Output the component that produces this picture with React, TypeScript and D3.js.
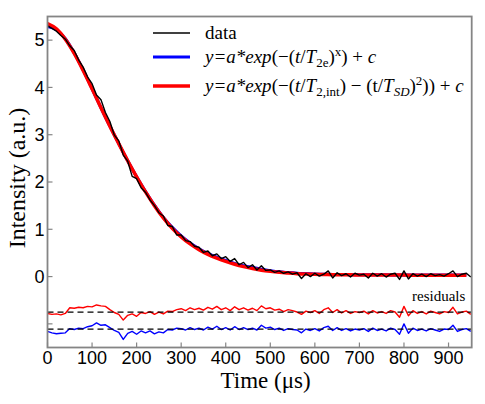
import React from "react";
import * as d3 from "d3";

const timeStep = 10;
const dataValues = [
  5.30, 5.25, 5.19, 5.10, 5.02, 4.88, 4.78, 4.58, 4.43, 4.22,
  4.08, 3.84, 3.74, 3.47, 3.28, 2.99, 2.87, 2.57, 2.44, 2.12,
  2.07, 1.88, 1.78, 1.62, 1.50, 1.35, 1.28, 1.08, 1.06, 0.88,
  0.88, 0.76, 0.74, 0.64, 0.62, 0.51, 0.54, 0.44, 0.48, 0.38,
  0.42, 0.32, 0.38, 0.25, 0.30, 0.19, 0.25, 0.14, 0.23, 0.13,
  0.14, 0.09, 0.12, 0.07, 0.10, 0.05, 0.08, -0.04, 0.06, 0.00,
  0.07, 0.01, 0.05, 0.12, -0.03, 0.08, 0.02, 0.06, -0.01, 0.07,
  0.03, 0.05, -0.03, 0.07, 0.01, 0.06, -0.01, 0.05, 0.07, -0.06,
  0.12, -0.05, 0.06, 0.01, 0.05, 0.00, 0.06, 0.02, 0.04, 0.01,
  0.06, 0.12, 0.00, 0.05, 0.07, -0.01,
];

const fitStep = 20;
const fitRed = [
  5.35, 5.24, 5.02, 4.72, 4.36, 3.97, 3.57, 3.18, 2.81, 2.45,
  2.11, 1.79, 1.50, 1.24, 1.02, 0.84, 0.69, 0.57, 0.47, 0.39,
  0.32, 0.26, 0.21, 0.17, 0.135, 0.11, 0.09, 0.075, 0.062, 0.053,
  0.047, 0.043, 0.040, 0.038, 0.036, 0.035, 0.034, 0.033, 0.032, 0.031,
  0.031, 0.030, 0.030, 0.030, 0.030, 0.030, 0.030, 0.030,
];
const fitBlue = [
  5.29, 5.22, 5.03, 4.73, 4.37, 3.97, 3.57, 3.18, 2.81, 2.45,
  2.11, 1.80, 1.51, 1.25, 1.04, 0.86, 0.71, 0.59, 0.49, 0.41,
  0.34, 0.28, 0.23, 0.19, 0.155, 0.125, 0.10, 0.085, 0.072, 0.063,
  0.055, 0.050, 0.046, 0.043, 0.041, 0.040, 0.038, 0.037, 0.036, 0.035,
  0.035, 0.034, 0.034, 0.033, 0.033, 0.033, 0.033, 0.033,
];

const residualRed = [
  -0.78, -0.80, -0.79, -0.81, -0.78, -0.66, -0.67, -0.65, -0.66, -0.63,
  -0.64, -0.60, -0.62, -0.63, -0.70, -0.76, -0.80, -0.92, -0.82, -0.79,
  -0.84, -0.76, -0.78, -0.74, -0.80, -0.75, -0.79, -0.73, -0.74, -0.70,
  -0.68, -0.72, -0.66, -0.70, -0.67, -0.71, -0.65, -0.69, -0.63, -0.70,
  -0.66, -0.72, -0.64, -0.70, -0.66, -0.71, -0.67, -0.72, -0.62, -0.68,
  -0.66, -0.71, -0.69, -0.74, -0.70, -0.72, -0.75, -0.80, -0.73, -0.76,
  -0.72, -0.78, -0.70, -0.66, -0.76, -0.70, -0.77, -0.72, -0.78, -0.74,
  -0.76, -0.73, -0.79, -0.72, -0.77, -0.74, -0.78, -0.72, -0.75, -0.86,
  -0.63, -0.83, -0.72, -0.78, -0.74, -0.79, -0.73, -0.76, -0.79, -0.74,
  -0.76, -0.65, -0.79, -0.75, -0.73, -0.80,
];
const residualBlue = [
  -1.16, -1.19, -1.21, -1.20, -1.19, -1.10, -1.12, -1.09, -1.10, -1.06,
  -1.04, -0.98, -1.03, -1.02, -1.08, -1.14, -1.18, -1.33, -1.20, -1.16,
  -1.22, -1.15, -1.19, -1.15, -1.21, -1.17, -1.19, -1.12, -1.13, -1.09,
  -1.10, -1.13, -1.08, -1.12, -1.09, -1.13, -1.07, -1.11, -1.05, -1.12,
  -1.08, -1.13, -1.06, -1.12, -1.08, -1.12, -1.09, -1.13, -1.03, -1.09,
  -1.07, -1.12, -1.09, -1.14, -1.10, -1.12, -1.13, -1.19, -1.11, -1.14,
  -1.10, -1.15, -1.08, -1.05, -1.14, -1.08, -1.14, -1.10, -1.15, -1.11,
  -1.13, -1.10, -1.16, -1.09, -1.14, -1.11, -1.15, -1.09, -1.12, -1.22,
  -1.00, -1.20, -1.09, -1.14, -1.11, -1.15, -1.10, -1.13, -1.16, -1.11,
  -1.12, -1.03, -1.16, -1.12, -1.10, -1.16,
];
const residualBaselines = [-0.75, -1.11];

const xTicks = [0, 100, 200, 300, 400, 500, 600, 700, 800, 900];
const yTicks = [-1, 0, 1, 2, 3, 4, 5];
const yTickLabels = ["", "0", "1", "2", "3", "4", "5"];

const W = 485;
const H = 404;
const left = 47.5;
const right = 471.7;
const top = 16.5;
const bottom = 347.5;

export default function App() {
  const x = d3.scaleLinear().domain([0, 952]).range([left, right]);
  const y = d3.scaleLinear().domain([-1.5, 5.5]).range([bottom, top]);

  const line = d3
    .line<[number, number]>()
    .x((d) => x(d[0]))
    .y((d) => y(d[1]));
  const smooth = d3
    .line<[number, number]>()
    .x((d) => x(d[0]))
    .y((d) => y(d[1]))
    .curve(d3.curveMonotoneX);

  const toPts = (vals: number[], step: number) =>
    vals.map((v, i) => [i * step, v] as [number, number]);

  const serif = "'Liberation Serif', 'Times New Roman', serif";
  const sans = "'Liberation Sans', Arial, sans-serif";
  const frame = "#858585";

  return (
    <svg
      width={W}
      height={H}
      style={{ position: "absolute", left: 0, top: 0, background: "#fff" }}
    >
      <defs>
        <clipPath id="plotClip">
          <rect x={left} y={top} width={right - left} height={bottom - top} />
        </clipPath>
      </defs>
      <rect width={W} height={H} fill="#fff" />
      <g clipPath="url(#plotClip)">
        <path d={smooth(toPts(fitBlue, fitStep)) || ""} fill="none" stroke="#0000ff" strokeWidth={3} />
        <path d={smooth(toPts(fitRed, fitStep)) || ""} fill="none" stroke="#ff0000" strokeWidth={3.5} />
        <path d={line(toPts(dataValues, timeStep)) || ""} fill="none" stroke="#000" strokeWidth={1.4} strokeLinejoin="round" />
        <path d={line(toPts(residualRed, timeStep)) || ""} fill="none" stroke="#ff0000" strokeWidth={1.4} strokeLinejoin="round" />
        <path d={line(toPts(residualBlue, timeStep)) || ""} fill="none" stroke="#0000ff" strokeWidth={1.4} strokeLinejoin="round" />
        {residualBaselines.map((b, i) => (
          <line
            key={i}
            x1={left}
            x2={right}
            y1={y(b)}
            y2={y(b)}
            stroke="#000"
            strokeWidth={1.2}
            strokeDasharray="6 4"
          />
        ))}
      </g>

      {/* ticks */}
      {xTicks.map((t) => (
        <g key={"x" + t}>
          <line x1={x(t)} x2={x(t)} y1={bottom} y2={bottom - 5} stroke={frame} strokeWidth={1.2} />
          <text x={x(t)} y={bottom + 16.5} textAnchor="middle" fontFamily={sans} fontSize={18} fill="#000">
            {t}
          </text>
        </g>
      ))}
      {yTicks.map((t, i) => (
        <g key={"y" + t}>
          <line x1={left} x2={left + 5} y1={y(t)} y2={y(t)} stroke={frame} strokeWidth={1.2} />
          <text x={left - 3} y={y(t)} dy="0.35em" textAnchor="end" fontFamily={sans} fontSize={18} fill="#000">
            {yTickLabels[i]}
          </text>
        </g>
      ))}

      <rect x={left} y={top} width={right - left} height={bottom - top} fill="none" stroke={frame} strokeWidth={1.8} />

      {/* axis titles */}
      <text x={(left + right) / 2 + 6} y={388} textAnchor="middle" fontFamily={serif} fontSize={23} fill="#000">
        Time (μs)
      </text>
      <text
        transform={`translate(25, ${(top + bottom) / 2 - 4}) rotate(-90)`}
        textAnchor="middle"
        fontFamily={serif}
        fontSize={24}
        fill="#000"
      >
        Intensity (a.u.)
      </text>

      {/* legend */}
      <line x1={153} x2={190} y1={33} y2={33} stroke="#000" strokeWidth={1.5} />
      <text x={205} y={39} fontFamily={serif} fontSize={19} fill="#000">data</text>

      <line x1={153} x2={190} y1={57} y2={57} stroke="#0000ff" strokeWidth={3} />
      <text x={205} y={63} fontFamily={serif} fontSize={19} fill="#000">
        <tspan fontStyle="italic">y=a*exp</tspan>
        <tspan>(−(</tspan>
        <tspan fontStyle="italic">t</tspan>
        <tspan>/</tspan>
        <tspan fontStyle="italic">T</tspan>
        <tspan fontSize={13} dy={4}>2e</tspan>
        <tspan dy={-4}>)</tspan>
        <tspan fontSize={13} dy={-7}>x</tspan>
        <tspan dy={7}>) + </tspan>
        <tspan fontStyle="italic">c</tspan>
      </text>

      <line x1={153} x2={190} y1={86} y2={86} stroke="#ff0000" strokeWidth={3.5} />
      <text x={205} y={92} fontFamily={serif} fontSize={19} fill="#000">
        <tspan fontStyle="italic">y=a*exp</tspan>
        <tspan>(−(</tspan>
        <tspan fontStyle="italic">t</tspan>
        <tspan>/</tspan>
        <tspan fontStyle="italic">T</tspan>
        <tspan fontSize={13} dy={4}>2,int</tspan>
        <tspan dy={-4}>) − (t/</tspan>
        <tspan fontStyle="italic">T</tspan>
        <tspan fontSize={13} fontStyle="italic" dy={4}>SD</tspan>
        <tspan dy={-4}>)</tspan>
        <tspan fontSize={13} dy={-7}>2</tspan>
        <tspan dy={7}>)) + </tspan>
        <tspan fontStyle="italic">c</tspan>
      </text>

      <text x={412} y={301} fontFamily={serif} fontSize={15} fill="#000">residuals</text>
    </svg>
  );
}
